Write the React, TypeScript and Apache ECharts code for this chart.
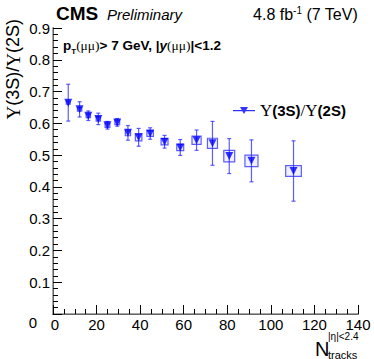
import React, { useEffect, useRef } from "react";
import * as echarts from "echarts";

const nTracks = [7, 12.2, 16.2, 20.8, 25, 29.5, 34.4, 39.3, 44.6, 51.2, 58.4, 65.9, 73.2, 80.9, 91.1, 110.4];
const ratio = [0.665, 0.644, 0.624, 0.614, 0.594, 0.603, 0.57, 0.556, 0.568, 0.542, 0.524, 0.547, 0.537, 0.497, 0.482, 0.45];
const statErr = [0.058, 0.024, 0.015, 0.018, 0.012, 0.012, 0.023, 0.028, 0.018, 0.02, 0.025, 0.032, 0.069, 0.055, 0.066, 0.095];
const sysErr = [0.005, 0.006, 0.006, 0.007, 0.007, 0.007, 0.009, 0.011, 0.009, 0.01, 0.01, 0.013, 0.016, 0.018, 0.018, 0.017];
const binHalfWidth = [0.9, 1, 1, 1, 1.1, 1.1, 1.2, 1.5, 1.5, 1.6, 1.6, 2.1, 2.3, 2.5, 3, 3.6];
const yTicks = [0, 0.1, 0.2, 0.3, 0.4, 0.5, 0.6, 0.7, 0.8, 0.9];

const SANS = "'Liberation Sans', Arial, Helvetica, sans-serif";
const SERIF = "'Liberation Serif', 'Times New Roman', serif";
const BLUE = "#0000ff";

export default function App() {
  const ref = useRef<HTMLDivElement>(null);
  useEffect(() => {
    if (!ref.current) return;
    document.body.style.margin = "0";
    const chart = echarts.init(ref.current, null, { renderer: "svg" });
    const points = nTracks.map((x, i) => [x, ratio[i]]);
    const errData = nTracks.map((x, i) => [x, ratio[i], statErr[i]]);
    const boxData = nTracks.map((x, i) => [x, ratio[i], binHalfWidth[i], sysErr[i]]);
    chart.setOption({
      animation: false,
      grid: { left: 53, right: 16, top: 28, bottom: 45, containLabel: false },
      xAxis: [
        {
          type: "value", min: 0, max: 140, interval: 20,
          axisLine: { show: true, onZero: false, lineStyle: { color: "#000", width: 1 } },
          axisTick: { show: true, inside: true, length: 9, lineStyle: { color: "#000" } },
          minorTick: { show: true, splitNumber: 4, length: 5, lineStyle: { color: "#000" } },
          splitLine: { show: false },
          axisLabel: {
            fontFamily: SANS, fontSize: 15, color: "#000", margin: 3,
            formatter: (v: number) => (v === 0 ? "{z|0}" : String(v)),
            rich: { z: { fontFamily: SANS, fontSize: 15, color: "#000", padding: [0, 0, 0, 4] } },
          },
        },
        {
          type: "value", min: 0, max: 140, position: "top",
          axisLine: { show: true, lineStyle: { color: "#888", width: 1.5 } },
          axisTick: { show: false }, axisLabel: { show: false }, splitLine: { show: false },
        },
      ],
      yAxis: [
        {
          type: "value", min: 0, max: 0.9, interval: 0.1,
          axisLine: { show: true, onZero: false, lineStyle: { color: "#000", width: 1 } },
          axisTick: { show: true, inside: true, length: 9, lineStyle: { color: "#000" } },
          minorTick: { show: true, splitNumber: 5, length: 5, lineStyle: { color: "#000" } },
          splitLine: { show: false },
          axisLabel: {
            fontFamily: SANS, fontSize: 15, color: "#000", margin: 3,
            formatter: (v: number) => {
              const t = yTicks.find((k) => Math.abs(k - v) < 1e-6);
              if (t === undefined) return "";
              return t === 0 ? "{z|0}" : t.toFixed(1);
            },
            rich: { z: { fontFamily: SANS, fontSize: 15, color: "#000", padding: [16, 13, 0, 0] } },
          },
        },
        {
          type: "value", min: 0, max: 0.9, position: "right",
          axisLine: { show: true, lineStyle: { color: "#888", width: 1.5 } },
          axisTick: { show: false }, axisLabel: { show: false }, splitLine: { show: false },
        },
      ],
      legend: {
        left: 228, top: 97, itemWidth: 22, itemHeight: 9, itemGap: 4,
        data: [{ name: "ratio", icon: "path://M0,4h22v1.2h-22z M7,1h8l-4,7z" }],
        formatter: () => "{u|Υ}{b|(3S)}{s|/}{u|Υ}{b|(2S)}",
        textStyle: {
          color: "#000",
          rich: {
            u: { fontFamily: SERIF, fontSize: 17, color: "#000" },
            s: { fontFamily: SERIF, fontSize: 17, color: "#000" },
            b: { fontFamily: SANS, fontSize: 15, fontWeight: "bold", color: "#000" },
          },
        },
      },
      series: [
        {
          type: "custom", name: "sys", xAxisIndex: 0, yAxisIndex: 0, z: 2,
          data: boxData,
          renderItem: (params: any, api: any) => {
            const x = api.value(0), y = api.value(1), hw = api.value(2), hh = api.value(3);
            const p1 = api.coord([x - hw, y + hh]);
            const p2 = api.coord([x + hw, y - hh]);
            return {
              type: "rect",
              shape: { x: p1[0], y: p1[1], width: p2[0] - p1[0], height: p2[1] - p1[1] },
              style: { fill: "rgba(0,0,255,0.06)", stroke: "rgba(40,40,255,0.75)", lineWidth: 1.2 },
            };
          },
        },
        {
          type: "custom", name: "stat", xAxisIndex: 0, yAxisIndex: 0, z: 3,
          data: errData,
          renderItem: (params: any, api: any) => {
            const x = api.value(0), y = api.value(1), e = api.value(2);
            const top = api.coord([x, y + e]);
            const bot = api.coord([x, y - e]);
            const st = { stroke: "rgba(40,40,255,0.75)", lineWidth: 1.2 };
            return {
              type: "group",
              children: [
                { type: "line", shape: { x1: top[0], y1: top[1], x2: bot[0], y2: bot[1] }, style: st },
                { type: "line", shape: { x1: top[0] - 2, y1: top[1], x2: top[0] + 2, y2: top[1] }, style: st },
                { type: "line", shape: { x1: bot[0] - 2, y1: bot[1], x2: bot[0] + 2, y2: bot[1] }, style: st },
              ],
            };
          },
        },
        {
          type: "scatter", name: "ratio", xAxisIndex: 0, yAxisIndex: 0, z: 4,
          data: points, symbol: "triangle", symbolRotate: 180, symbolSize: [8, 8],
          itemStyle: { color: BLUE },
        },
      ],
      graphic: [
        { type: "text", left: 56, top: 4, style: { text: "CMS", font: `bold 19px ${SANS}`, fill: "#000" } },
        { type: "text", left: 107, top: 7, style: { text: "Preliminary", font: `italic 15px ${SANS}`, fill: "#000" } },
        {
          type: "text", right: 16, top: 5,
          style: {
            text: "{a|4.8 fb}{sup|-1}{a| (7 TeV)}",
            rich: {
              a: { font: `16px ${SANS}`, fill: "#000", verticalAlign: "bottom" },
              sup: { font: `10px ${SANS}`, fill: "#000", padding: [0, 0, 7, 0], verticalAlign: "bottom" },
            },
          },
        },
        {
          type: "text", left: 63, top: 38,
          style: {
            text: "{b|p}{sub|T}{m|(μμ)}{b|> 7 GeV, |}{i|y}{m|(μμ)}{b||<1.2}",
            rich: {
              b: { font: `bold 13.5px ${SANS}`, fill: "#000", verticalAlign: "bottom" },
              i: { font: `italic bold 13.5px ${SANS}`, fill: "#000", verticalAlign: "bottom" },
              m: { font: `13.5px ${SERIF}`, fill: "#000", verticalAlign: "bottom" },
              sub: { font: `bold 8px ${SANS}`, fill: "#000", verticalAlign: "bottom", padding: [0, 0, -3, 0] },
            },
          },
        },
        {
          type: "text", x: 13, y: 19, rotation: Math.PI / 2,
          style: {
            text: "{u|Υ}{a|(3S)/}{u|Υ}{a|(2S)}",
            textAlign: "right", textVerticalAlign: "middle", align: "right", verticalAlign: "middle",
            rich: {
              u: { font: `19px ${SERIF}`, fill: "#000" },
              a: { font: `18px ${SANS}`, fill: "#000" },
            },
          },
        },
        { type: "text", left: 315, top: 339, style: { text: "N", font: `20px ${SANS}`, fill: "#000" } },
        { type: "text", left: 328, top: 331, style: { text: "|η|<2.4", font: `10px ${SANS}`, fill: "#000" } },
        { type: "text", left: 328, top: 349, style: { text: "tracks", font: `11px ${SANS}`, fill: "#000" } },
      ],
    });
    return () => chart.dispose();
  }, []);
  return <div ref={ref} style={{ width: 374, height: 359 }} />;
}
